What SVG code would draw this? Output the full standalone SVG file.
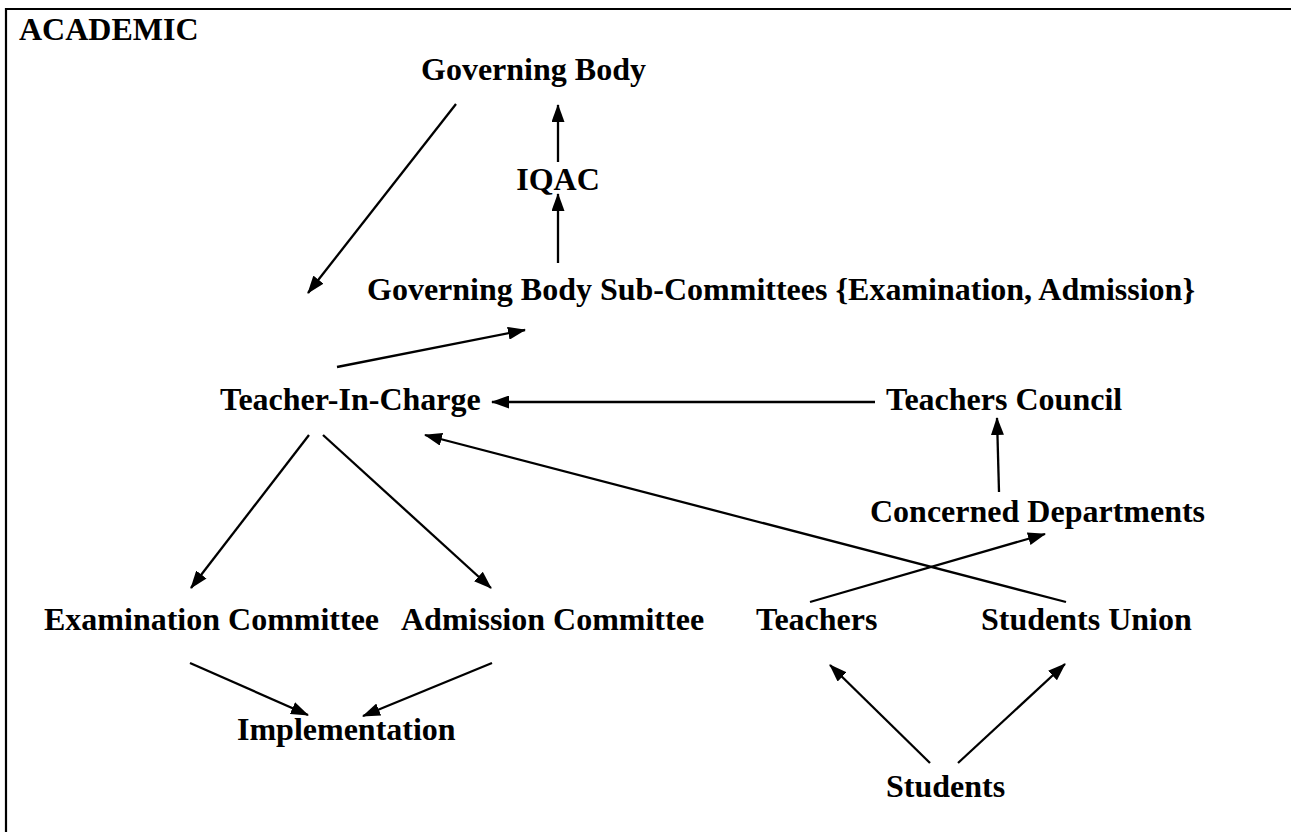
<svg xmlns="http://www.w3.org/2000/svg" width="1291" height="832" viewBox="0 0 1291 832">
<style>
text{font-family:"Liberation Serif","Times New Roman",serif;font-weight:bold;font-size:32px;fill:#000}
.c{stroke:#000;stroke-width:2.3;fill:none;marker-end:url(#ah)}
</style>
<defs>
<marker id="ah" markerWidth="18" markerHeight="13" refX="17" refY="6.5" orient="auto" markerUnits="userSpaceOnUse">
<path d="M0,0 L18,6.5 L0,13 z" fill="#000"/>
</marker>
</defs>
<rect width="1291" height="832" fill="#fff"/>
<path d="M6,832 V9 H1291" stroke="#000" stroke-width="2.2" fill="none"/>
<g id="title"><text x="19" y="40">ACADEMIC</text></g>
<g id="governing-body"><text x="421" y="80">Governing Body</text></g>
<g id="iqac"><text x="558" y="190" text-anchor="middle">IQAC</text></g>
<g id="gb-sub"><text x="367" y="300">Governing Body Sub-Committees {Examination, Admission}</text></g>
<g id="tic"><text x="220" y="410">Teacher-In-Charge</text></g>
<g id="tc"><text x="886" y="410">Teachers Council</text></g>
<g id="cd"><text x="870" y="522">Concerned Departments</text></g>
<g id="exam"><text x="44" y="630">Examination Committee</text></g>
<g id="adm"><text x="401" y="630">Admission Committee</text></g>
<g id="teachers"><text x="756" y="630">Teachers</text></g>
<g id="su"><text x="981" y="630">Students Union</text></g>
<g id="impl"><text x="237" y="740">Implementation</text></g>
<g id="students"><text x="886" y="797">Students</text></g>
<g id="connectors">
<line class="c" x1="456" y1="104" x2="308" y2="293"/>
<line class="c" x1="558" y1="162" x2="558" y2="105"/>
<line class="c" x1="558" y1="263" x2="558" y2="194"/>
<line class="c" x1="337" y1="367" x2="525" y2="330"/>
<line class="c" x1="875" y1="402" x2="492" y2="402"/>
<line class="c" x1="1066" y1="602" x2="425" y2="435"/>
<line class="c" x1="999" y1="492" x2="997" y2="418"/>
<line class="c" x1="810" y1="602" x2="1045" y2="534"/>
<line class="c" x1="309" y1="435" x2="191" y2="588"/>
<line class="c" x1="323" y1="435" x2="491" y2="588"/>
<line class="c" x1="190" y1="663" x2="308" y2="715"/>
<line class="c" x1="492" y1="663" x2="363" y2="716"/>
<line class="c" x1="930" y1="763" x2="830" y2="665"/>
<line class="c" x1="958" y1="763" x2="1065" y2="664"/>
</g>
</svg>
